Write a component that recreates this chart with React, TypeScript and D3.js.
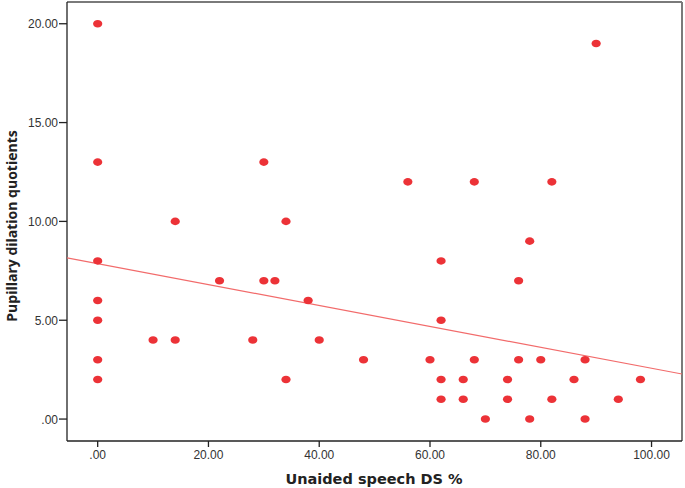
import React from "react";
import * as d3 from "d3";

const speechDS: number[] = [
  0, 0, 0, 0, 0, 0, 0,
  10, 14, 14, 22, 28, 30, 30, 32, 34, 34, 38, 40, 48, 56, 60,
  62, 62, 62, 62, 66, 66, 68, 68, 70, 74, 74, 76, 76, 78, 78,
  80, 82, 82, 86, 88, 88, 90, 94, 98,
];
const dilation: number[] = [
  20, 13, 8, 6, 5, 3, 2,
  4, 10, 4, 7, 4, 13, 7, 7, 10, 2, 6, 4, 3, 12, 3,
  8, 5, 2, 1, 2, 1, 12, 3, 0, 2, 1, 7, 3, 9, 0,
  3, 12, 1, 2, 3, 0, 19, 1, 2,
];
// fit line coefficients as drawn in the reference (intercept, slope)
const fitIntercept = 7.86;
const fitSlope = -0.0529;
const xTicks = [0, 20, 40, 60, 80, 100];
const yTicks = [0, 5, 10, 15, 20];
const xTitle = "Unaided speech DS %";
const yTitle = "Pupillary dilation quotients";

const fmt = (v: number) => (v === 0 ? ".00" : v.toFixed(2));

export default function App() {
  const W = 685, H = 488;
  const left = 67, right = 682, top = 2, bottom = 441;
  const x = d3.scaleLinear().domain([-5.54, 105.5]).range([left, right]);
  const y = d3.scaleLinear().domain([-1.11, 21.1]).range([bottom, top]);

  const [d0, d1] = x.domain();
  const line = d3.line<number>().x((v) => x(v)).y((v) => y(fitIntercept + fitSlope * v));

  const font = "'Liberation Sans', Arial, sans-serif";
  return (
    <svg width={W} height={H} style={{ position: "absolute", left: 0, top: 0, background: "#fff" }}>
      <rect x={0} y={0} width={W} height={H} fill="#fff" />
      <defs>
        <clipPath id="plot">
          <rect x={left} y={top} width={right - left} height={bottom - top} />
        </clipPath>
      </defs>
      <line x1={left} y1={top} x2={right} y2={top} stroke="#7a7a7a" strokeWidth={2} />
      <line x1={right} y1={top} x2={right} y2={bottom} stroke="#7a7a7a" strokeWidth={2} />
      <line x1={left} y1={top} x2={left} y2={bottom} stroke="#222" strokeWidth={1.3} />
      <line x1={left} y1={bottom} x2={right} y2={bottom} stroke="#222" strokeWidth={1.3} />
      {yTicks.map((t) => (
        <g key={"y" + t}>
          <line x1={left - 8} x2={left} y1={y(t)} y2={y(t)} stroke="#222" strokeWidth={1.3} />
          <text x={left - 9} y={y(t) + 4.5} textAnchor="end" fontSize={12} fontFamily={font} fill="#333">
            {fmt(t)}
          </text>
        </g>
      ))}
      {xTicks.map((t) => (
        <g key={"x" + t}>
          <line x1={x(t)} x2={x(t)} y1={bottom} y2={bottom + 6} stroke="#222" strokeWidth={1.3} />
          <text x={x(t)} y={bottom + 18} textAnchor="middle" fontSize={12} fontFamily={font} fill="#333">
            {fmt(t)}
          </text>
        </g>
      ))}
      <g clipPath="url(#plot)">
        <path d={line([d0, d1]) || ""} stroke="#f26b6b" strokeWidth={1.2} fill="none" />
        {speechDS.map((v, i) => (
          <ellipse key={i} cx={x(v)} cy={y(dilation[i])} rx={4.6} ry={3.8} fill="#ec3237" />
        ))}
      </g>
      <text x={374} y={484} textAnchor="middle" fontSize={14.5} fontWeight="bold" fontFamily="'DejaVu Sans', Verdana, sans-serif" fill="#222">
        {xTitle}
      </text>
      <text
        transform={`translate(17,226) rotate(-90)`}
        textAnchor="middle"
        fontSize={14}
        fontWeight="bold"
        fontFamily="'Open Sans', sans-serif"
        fill="#222"
      >
        {yTitle}
      </text>
    </svg>
  );
}
